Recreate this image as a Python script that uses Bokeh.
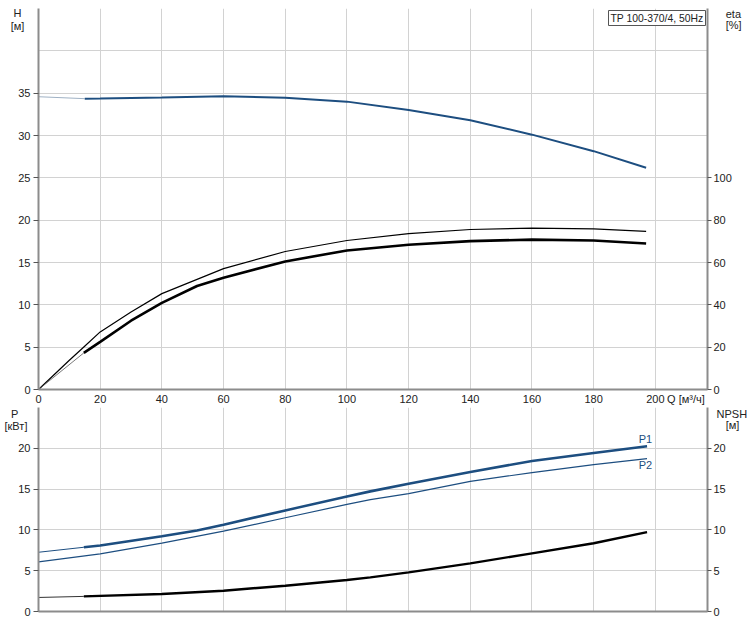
from bokeh.plotting import figure
from bokeh.models import Range1d, LinearAxis, FixedTicker, Label
from bokeh.layouts import column
from bokeh.embed import file_html
from bokeh.resources import INLINE

# ---------------- data ----------------
# Head curve H [m]
q_h_thin = [0, 15]
h_thin = [34.58, 34.35]
q_h = [15, 20, 40, 60, 80, 100, 120, 140, 160, 180, 197]
h_vals = [34.35, 34.36, 34.5, 34.65, 34.45, 34.0, 33.0, 31.8, 30.1, 28.15, 26.2]

# Efficiency curves eta [%]
q_eta_upper = [0, 10, 14.7, 20, 30, 40, 60, 80, 100, 120, 140, 160, 180, 197]
eta_upper = [0, 13.8, 20.1, 27.2, 36.6, 45.3, 57.1, 65.2, 70.4, 73.6, 75.6, 76.2, 75.9, 74.7]
q_eta_thin = [0, 14.7]
eta_thin = [0, 17.3]
q_eta_lower = [14.7, 20, 30, 40, 51.4, 60, 80, 100, 120, 140, 160, 180, 197]
eta_lower = [17.3, 22.5, 32.5, 40.9, 48.9, 52.8, 60.5, 65.7, 68.4, 70.1, 70.8, 70.4, 69.0]

# Power P1 / P2 [kW]
q_p1_thin = [0, 14.7]
p1_thin = [7.26, 7.87]
q_p1 = [14.7, 20, 40, 51.4, 60, 80, 100, 107.6, 120, 140, 160, 180, 197.3]
p1_vals = [7.87, 8.08, 9.23, 9.93, 10.63, 12.39, 14.1, 14.72, 15.66, 17.1, 18.45, 19.43, 20.26]
q_p2 = [0, 20, 40, 60, 80, 100, 107.6, 120, 140, 160, 180, 197.3]
p2_vals = [6.07, 7.06, 8.37, 9.84, 11.49, 13.12, 13.7, 14.44, 15.95, 17.02, 18.0, 18.74]

# NPSH [m]
q_npsh_thin = [0, 14.7]
npsh_thin = [1.72, 1.85]
q_npsh = [14.7, 40, 60, 80, 100, 107.6, 120, 140, 160, 180, 197.3]
npsh_vals = [1.85, 2.14, 2.55, 3.16, 3.86, 4.18, 4.8, 5.9, 7.13, 8.36, 9.72]

q_ticks = [0, 20, 40, 60, 80, 100, 120, 140, 160, 180, 200]
h_ticks = [0, 5, 10, 15, 20, 25, 30, 35]
h_grid = [0, 5, 10, 15, 20, 25, 30, 35, 40, 45]
eta_ticks = [0, 20, 40, 60, 80, 100]
p_ticks = [0, 5, 10, 15, 20]
p_grid = [0, 5, 10, 15, 20, 25]

title_text = "TP 100-370/4, 50Hz"
NB = "\u00a0"
# axis titles, drawn as extra labels of the axes at these axis values
# (non-breaking spaces keep them where the reference has them)
h_title = {44.47: "H" + NB * 3, 42.99: "[м]" + NB * 2}
eta_title = {177.6: NB * 4 + "eta", 172.0: NB * 4 + "[%]"}
q_title = {209.9: "Q [м³/ч]"}
p_title = {24.3: "P" + NB * 4, 22.71: "[кВт]" + NB}
npsh_title = {24.3: NB + "NPSH", 22.8: NB * 4 + "[м]"}

# ---------------- styling ----------------
FONT = "Liberation Sans"
BLUE = "#1d4e80"
LIGHTBLUE = "#9fb1c4"
GRID = "#d2d2d2"
AXIS = "#8c8c8c"
TXT = "#222222"
FS = "11px"


def style_axis(ax, ticks, titles, tick_out=5, standoff=3):
    """Tick marks drawn as 'minor' ticks at the real ticks only; labels at ticks + titles."""
    ax.ticker = FixedTicker(ticks=sorted(list(ticks) + list(titles.keys())),
                            minor_ticks=list(ticks))
    ax.major_label_overrides = dict(titles)
    ax.axis_line_color = AXIS
    ax.axis_line_width = 2
    ax.major_tick_line_color = None
    ax.major_tick_in = 0
    ax.major_tick_out = 0
    ax.minor_tick_line_color = "#555555" if tick_out > 0 else None
    ax.minor_tick_in = 0
    ax.minor_tick_out = tick_out
    ax.major_label_text_font = FONT
    ax.major_label_text_font_size = FS
    ax.major_label_text_color = TXT
    ax.major_label_standoff = standoff


xr = Range1d(0, 216.9)

# ---------------- top figure: H / eta ----------------
p1 = figure(width=752, height=407, x_range=xr, y_range=Range1d(0, 45),
            output_backend="svg", toolbar_location=None, title=None,
            min_border_left=38, min_border_right=45, min_border_top=8,
            min_border_bottom=18)
p1.extra_y_ranges = {"eta": Range1d(0, 180)}
p1.outline_line_color = None

style_axis(p1.xaxis[0], q_ticks, q_title, tick_out=0, standoff=3)
style_axis(p1.yaxis[0], h_ticks, h_title, tick_out=5, standoff=3)
ax_eta = LinearAxis(y_range_name="eta")
style_axis(ax_eta, eta_ticks, eta_title, tick_out=4, standoff=2)
p1.add_layout(ax_eta, "right")
p1.xgrid.ticker = FixedTicker(ticks=q_ticks)
p1.ygrid.ticker = FixedTicker(ticks=h_grid)
for g in p1.grid:
    g.grid_line_color = GRID
    g.grid_line_width = 1

p1.line(q_h_thin, h_thin, line_color=LIGHTBLUE, line_width=1)
p1.line(q_h, h_vals, line_color=BLUE, line_width=2)
p1.line(q_eta_upper, eta_upper, y_range_name="eta", line_color="black", line_width=1.2)
p1.line(q_eta_thin, eta_thin, y_range_name="eta", line_color="#555555", line_width=0.8)
p1.line(q_eta_lower, eta_lower, y_range_name="eta", line_color="black", line_width=2.6)

p1.add_layout(Label(x=216.9, y=45, text=title_text, text_font=FONT, text_font_size="10.4px",
                    text_color=TXT, text_align="right", text_baseline="top",
                    x_offset=-2, y_offset=-2, padding=2,
                    border_line_color="#555555", border_line_width=1,
                    background_fill_color="white"))

# ---------------- bottom figure: P / NPSH ----------------
p2 = figure(width=752, height=211, x_range=xr, y_range=Range1d(0, 25),
            output_backend="svg", toolbar_location=None, title=None,
            min_border_left=38, min_border_right=45, min_border_top=0,
            min_border_bottom=7)
p2.outline_line_color = None
p2.xaxis.ticker = FixedTicker(ticks=[])
p2.xaxis.axis_line_color = AXIS
p2.xaxis.axis_line_width = 2
p2.xaxis.major_tick_line_color = None
p2.xaxis.minor_tick_line_color = None
p2.xaxis.major_label_standoff = 0
style_axis(p2.yaxis[0], p_ticks, p_title, tick_out=5, standoff=3)
ax_npsh = LinearAxis()
style_axis(ax_npsh, p_ticks, npsh_title, tick_out=4, standoff=2)
p2.add_layout(ax_npsh, "right")
p2.xgrid.ticker = FixedTicker(ticks=q_ticks)
p2.ygrid.ticker = FixedTicker(ticks=p_grid)
for g in p2.grid:
    g.grid_line_color = GRID
    g.grid_line_width = 1

p2.line(q_p1_thin, p1_thin, line_color=BLUE, line_width=1)
p2.line(q_p1, p1_vals, line_color=BLUE, line_width=2.6)
p2.line(q_p2, p2_vals, line_color=BLUE, line_width=1.2)
p2.line(q_npsh_thin, npsh_thin, line_color="#333333", line_width=1)
p2.line(q_npsh, npsh_vals, line_color="black", line_width=2.4)

for txt, yy in (("P1", 21.1), ("P2", 17.9)):
    p2.add_layout(Label(x=196.8, y=yy, text=txt, text_font=FONT, text_font_size=FS,
                        text_color=BLUE, text_align="center", text_baseline="middle"))

layout = column(p1, p2)
open("out.html", "w").write(file_html(layout, INLINE))
